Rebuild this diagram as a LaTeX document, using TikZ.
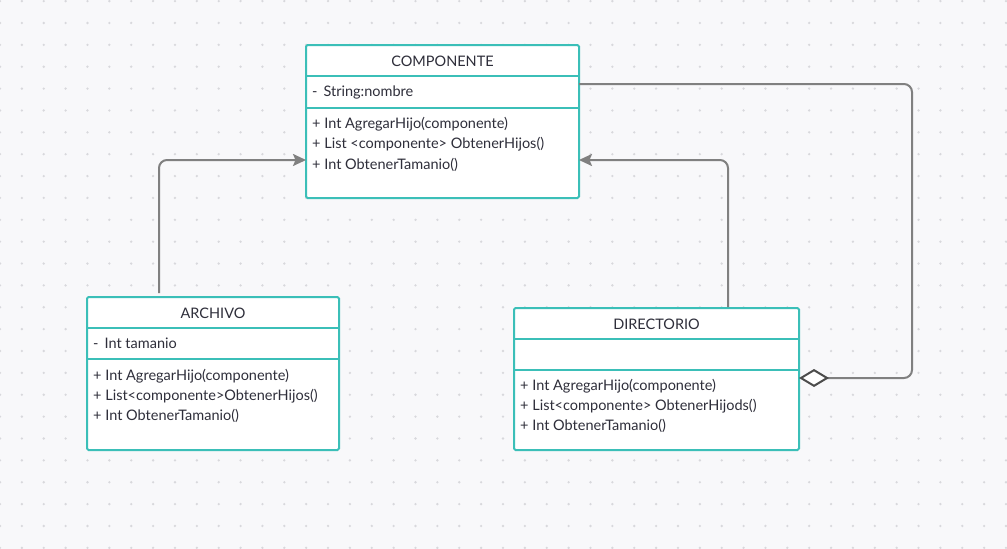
\documentclass[tikz,border=0pt]{standalone}
\usepackage{fontspec}
\setmainfont{Lato}
\usetikzlibrary{arrows.meta,calc}
\definecolor{canvas}{HTML}{F8F8FA}
\definecolor{griddot}{HTML}{D8D8DC}
\definecolor{teal}{HTML}{3BBFB8}
\definecolor{wire}{HTML}{808080}
\definecolor{ink}{HTML}{2E2E3A}
\tikzset{
  classbox/.style={draw=teal, line width=2pt, fill=white, rounded corners=1.5pt,
    anchor=north west, inner sep=0pt, outer sep=0pt},
  divider/.style={draw=teal, line width=2pt},
  title/.style={font=\fontsize{14.5}{16}\selectfont, text=ink, inner sep=0pt},
  member/.style={font=\fontsize{14.5}{16}\selectfont, text=ink, inner sep=0pt, anchor=west},
  conn/.style={draw=wire, line width=2pt, rounded corners=8pt},
  inherit/.style={-{Stealth[length=13pt,width=12pt,inset=2.5pt]}},
  aggregate/.style={-{Diamond[open,length=30pt,width=18pt,line width=2pt,color=black!70,fill=white]}},
}
\begin{document}
\begin{tikzpicture}[x=1pt,y=-1pt]
  \useasboundingbox (0,0) rectangle (1007,549);
  \fill[canvas] (0,0) rectangle (1007,549);
  % dotted grid
  \foreach \i in {0,...,46} {
    \foreach \j in {0,...,25} {
      \fill[griddot] ({\i*21.87},{1.1+\j*21.87}) circle (1.3pt);
    }
  }

  % COMPONENTE
  \node[classbox, minimum width=273pt, minimum height=153pt] (componente) at (306,45) {};
  \draw[divider] (306,76) -- (579,76);
  \draw[divider] (306,107.5) -- (579,107.5);
  \node[title] (componenteTitle) at (442.5,61) {COMPONENTE};
  \node[member] (componenteA1) at (312,92) {-\hspace{6pt}String:nombre};
  \node[member] (componenteM1) at (312,124.5) {+ Int AgregarHijo(componente)};
  \node[member] (componenteM2) at (312,144.5) {+ List <componente> ObtenerHijos()};
  \node[member] (componenteM3) at (312,164.5) {+ Int ObtenerTamanio()};

  % ARCHIVO
  \node[classbox, minimum width=252pt, minimum height=153pt] (archivo) at (87,297) {};
  \draw[divider] (87,327.5) -- (339,327.5);
  \draw[divider] (87,359) -- (339,359);
  \node[title] (archivoTitle) at (213,313) {ARCHIVO};
  \node[member] (archivoA1) at (93,343.5) {-\hspace{6pt}Int tamanio};
  \node[member] (archivoM1) at (93,376) {+ Int AgregarHijo(componente)};
  \node[member] (archivoM2) at (93,396) {+ List<componente>ObtenerHijos()};
  \node[member] (archivoM3) at (93,415.5) {+ Int ObtenerTamanio()};

  % DIRECTORIO
  \node[classbox, minimum width=285pt, minimum height=142pt] (directorio) at (514,308) {};
  \draw[divider] (514,339) -- (799,339);
  \draw[divider] (514,370) -- (799,370);
  \node[title] (directorioTitle) at (656.5,324.5) {DIRECTORIO};
  \node[member] (directorioM1) at (520,386) {+ Int AgregarHijo(componente)};
  \node[member] (directorioM2) at (520,406) {+ List<componente> ObtenerHijods()};
  \node[member] (directorioM3) at (520,426) {+ Int ObtenerTamanio()};

  % connector end points
  \coordinate (archivoOut) at (159,293);
  \coordinate (componenteInL) at (306,160);
  \coordinate (directorioOut) at (728,307);
  \coordinate (componenteInR) at (579,160);
  \coordinate (componenteOut) at (579,84);
  \coordinate (directorioIn) at (799,378);

  % generalisations
  \draw[conn, inherit] (archivoOut) |- (componenteInL);
  \draw[conn, inherit] (directorioOut) |- (componenteInR);
  % aggregation
  \draw[conn, aggregate] (componenteOut) -- (912,84) -- (912,378) -- (directorioIn);
\end{tikzpicture}
\end{document}
